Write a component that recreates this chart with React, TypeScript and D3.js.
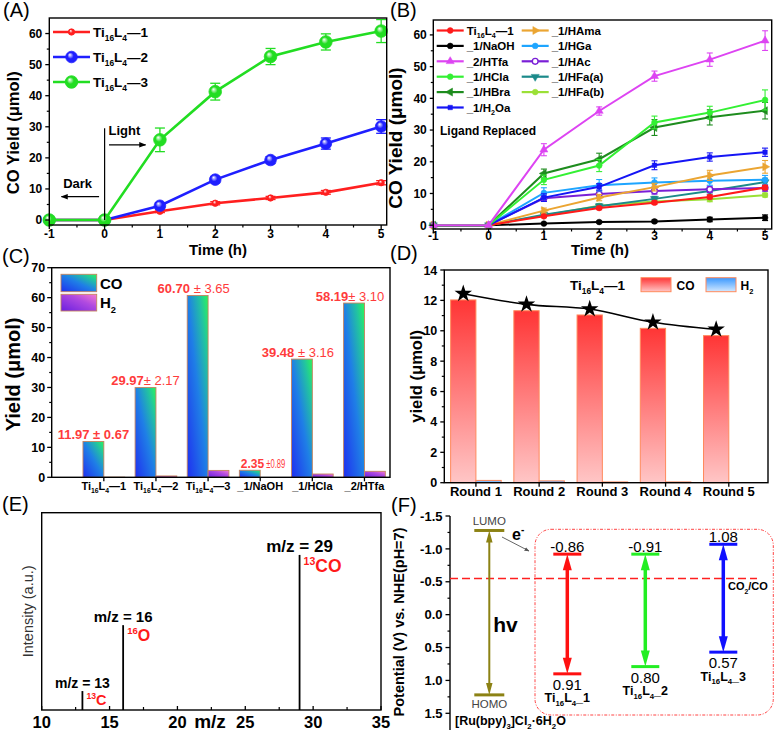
import React from 'react';
import * as d3 from 'd3';

const FONT = 'Arial, "Liberation Sans", Helvetica, sans-serif';

// ---------------- Panel A data ----------------
const timeH = [-1, 0, 1, 2, 3, 4, 5];
const aLabels = ['Ti_{16}L_{4}—1', 'Ti_{16}L_{4}—2', 'Ti_{16}L_{4}—3'];
const aTi1 = [0, 0, 2.8, 5.4, 7.1, 8.9, 12.0];
const aTi1Err = [0, 0, 0.4, 0.5, 0.5, 0.6, 0.67];
const aTi2 = [0, 0, 4.6, 13.0, 19.3, 24.6, 30.1];
const aTi2Err = [0, 0, 1.0, 1.0, 1.1, 1.8, 2.2];
const aTi3 = [0, 0, 25.8, 41.3, 52.6, 57.3, 60.8];
const aTi3Err = [0, 0, 3.8, 2.7, 2.6, 2.6, 3.7];
const yieldTicks = [0, 10, 20, 30, 40, 50, 60];
const timeTicks = [-1, 0, 1, 2, 3, 4, 5];

// ---------------- Panel B data ----------------
const bLabels = ['Ti_{16}L_{4}—1', '_1/NaOH', '_2/HTfa', '_1/HCla', '_1/HBra', '_1/H_{2}Oa', '_1/HAma', '_1/HGa', '_1/HAc', '_1/HFa(a)', '_1/HFa(b)'];
const bTi1 = [0, 0, 2.8, 5.4, 7.1, 8.9, 11.9];
const bNaOH = [0, 0, 0.5, 1.0, 1.2, 1.8, 2.35];
const bHTfa = [0, 0, 23.8, 36.0, 47.0, 52.2, 58.2];
const bHCla = [0, 0, 14.3, 18.8, 32.4, 35.5, 39.5];
const bHBra = [0, 0, 16.3, 20.8, 30.8, 34.0, 36.1];
const bH2Oa = [0, 0, 8.7, 12.1, 18.9, 21.5, 23.0];
const bHAma = [0, 0, 4.6, 8.7, 12.0, 15.7, 18.4];
const bHGa = [0, 0, 10.2, 12.6, 13.5, 14.0, 14.3];
const bHAc = [0, 0, 8.5, 9.8, 10.8, 11.3, 11.7];
const bHFaA = [0, 0, 3.3, 6.0, 8.3, 10.8, 13.6];
const bHFaB = [0, 0, 3.1, 6.1, 7.5, 8.2, 9.5];
const bTi1Err = [0, 0, 0.4, 0.5, 0.5, 0.6, 0.67];
const bNaOHErr = [0, 0, 0.2, 0.3, 0.4, 0.7, 0.89];
const bHTfaErr = [0, 0, 1.9, 1.3, 1.6, 2.1, 3.1];
const bHClaErr = [0, 0, 1.5, 1.9, 2.0, 2.0, 3.16];
const bHBraErr = [0, 0, 1.4, 1.9, 2.5, 2.4, 2.6];
const bH2OaErr = [0, 0, 1.2, 1.0, 1.4, 1.3, 1.3];
const bHAmaErr = [0, 0, 0.8, 1.0, 1.2, 1.6, 2.0];
const bHGaErr = [0, 0, 1.6, 1.8, 1.4, 1.4, 1.4];
const bHAcErr = [0, 0, 1.0, 1.0, 1.0, 1.0, 1.0];
const bHFaAErr = [0, 0, 0.6, 0.7, 0.8, 1.0, 1.2];
const bHFaBErr = [0, 0, 0.5, 0.6, 0.6, 0.8, 0.6];
const bColors = ['#ff1a1a', '#000000', '#dd44f2', '#33f033', '#1e8c1e', '#1515f5', '#eba532', '#1ea5ff', '#7a1fd6', '#1b8a8a', '#9be036'];
const bMarkers = ['circle', 'circle', 'triangle', 'circle', 'left', 'square', 'right', 'circle', 'circle', 'down', 'circle'];

// ---------------- Panel C data ----------------
const cCats = ['Ti_{16}L_{4}—1', 'Ti_{16}L_{4}—2', 'Ti_{16}L_{4}—3', '_1/NaOH', '_1/HCla', '_2/HTfa'];
const cCO = [11.97, 29.97, 60.70, 2.35, 39.48, 58.19];
const cH2 = [0.05, 0.45, 2.3, 0, 1.1, 2.0];
const cValText = ['11.97', '29.97', '60.70', '2.35', '39.48', '58.19'];
const cSepText = [' ± ', '± ', ' ± ', ' ± ', ' ± ', '± '];
const cErrText = ['0.67', '2.17', '3.65', '0.89', '3.16', '3.10'];
const cYTicks = [0, 10, 20, 30, 40, 50, 60, 70];

// ---------------- Panel D data ----------------
const dRounds = ['Round 1', 'Round 2', 'Round 3', 'Round 4', 'Round 5'];
const dCO = [12.03, 11.32, 11.04, 10.16, 9.68];
const dH2 = [0.15, 0.12, 0.05, 0.05, 0];
const dStar = [12.44, 11.74, 11.43, 10.56, 10.09];
const dYTicks = [0, 2, 4, 6, 8, 10, 12, 14];

// ---------------- Panel E data ----------------
const eMz = [13, 16, 29];
const eIntensity = [0.096, 0.43, 0.786];
const eLabels = ['m/z = 13', 'm/z = 16', 'm/z = 29'];
const eIsoMass = ['13', '16', '13'];
const eSpecies = ['C', 'O', 'CO'];
const eXTicks = [10, 15, 20, 25, 30, 35];

// ---------------- Panel F data ----------------
const fNames = ['Ti_{16}L_{4}_1', 'Ti_{16}L_{4}_2', 'Ti_{16}L_{4}_3'];
const fLumo = [-0.92, -0.92, -1.07];
const fHomo = [0.90, 0.79, 0.57];
const fLumoText = ['-0.86', '-0.91', '1.08'];
const fHomoText = ['0.91', '0.80', '0.57'];
const fColors = ['#ff1010', '#22ee22', '#1010ff'];
const ruLumo = -1.28;
const ruHomo = 1.22;
const co2coPotential = -0.55;
const fYTicks = [-1.5, -1.0, -0.5, 0.0, 0.5, 1.0, 1.5];

// ---------------- helpers ----------------
function rich(str: string, fs: number) {
  const parts = str.split(/(_\{[^}]*\}|\^\{[^}]*\})/).filter((p) => p !== '');
  const out: any[] = [];
  let shift = 0;
  parts.forEach((p, i) => {
    if (p.startsWith('_{')) {
      const s = fs * 0.3;
      out.push(<tspan key={i} fontSize={fs * 0.62} dy={s - shift}>{p.slice(2, -1)}</tspan>);
      shift = s;
    } else if (p.startsWith('^{')) {
      const s = -fs * 0.4;
      out.push(<tspan key={i} fontSize={fs * 0.62} dy={s - shift}>{p.slice(2, -1)}</tspan>);
      shift = s;
    } else {
      out.push(<tspan key={i} dy={-shift}>{p}</tspan>);
      shift = 0;
    }
  });
  return out;
}

function symPath(kind: string, size: number) {
  const t = kind === 'square' ? d3.symbolSquare : kind === 'circle' ? d3.symbolCircle : d3.symbolTriangle;
  return d3.symbol().type(t).size(size)() as string;
}
function symRot(kind: string) {
  if (kind === 'left') return -90;
  if (kind === 'right') return 90;
  if (kind === 'down') return 180;
  return 0;
}

function Frame({ x, y }: any) {
  const [x0, x1] = x.range();
  const [y1, y0] = y.range();
  return <rect x={x0} y={y0} width={x1 - x0} height={y1 - y0} fill="none" stroke="#000" strokeWidth={1.4} />;
}

function YTicks({ scale, x, major, minor = [], fmt = (v: number) => String(v), fs = 12, len = 4, mlen = 2.5, gap = 3 }: any) {
  return (
    <g>
      {minor.map((v: number, i: number) => (
        <line key={'m' + i} x1={x} x2={x - mlen} y1={scale(v)} y2={scale(v)} stroke="#000" strokeWidth={1.2} />
      ))}
      {major.map((v: number, i: number) => (
        <g key={i}>
          <line x1={x} x2={x - len} y1={scale(v)} y2={scale(v)} stroke="#000" strokeWidth={1.3} />
          <text x={x - len - gap} y={scale(v)} dy="0.36em" textAnchor="end" fontWeight="bold" fontSize={fs}>{fmt(v)}</text>
        </g>
      ))}
    </g>
  );
}

function XTicks({ scale, y, major, minor = [], fmt = (v: number) => String(v), fs = 12, len = 4, mlen = 2.5, gap = 13, dir = 1 }: any) {
  return (
    <g>
      {minor.map((v: number, i: number) => (
        <line key={'m' + i} x1={scale(v)} x2={scale(v)} y1={y} y2={y + dir * mlen} stroke="#000" strokeWidth={1.2} />
      ))}
      {major.map((v: number, i: number) => (
        <g key={i}>
          <line x1={scale(v)} x2={scale(v)} y1={y} y2={y + dir * len} stroke="#000" strokeWidth={1.3} />
          {fmt(v) !== '' && (
            <text x={scale(v)} y={y + gap} textAnchor="middle" fontWeight="bold" fontSize={fs}>{fmt(v)}</text>
          )}
        </g>
      ))}
    </g>
  );
}

function ErrBars({ xs, ys, errs, sx, sy, color, cap = 4, w = 1.3 }: any) {
  return (
    <g stroke={color} strokeWidth={w}>
      {ys.map((v: number, i: number) => {
        if (!errs[i]) return null;
        const X = sx(xs[i]);
        const t = sy(v + errs[i]);
        const b = sy(v - errs[i]);
        return (
          <g key={i}>
            <line x1={X} x2={X} y1={t} y2={b} />
            <line x1={X - cap} x2={X + cap} y1={t} y2={t} />
            <line x1={X - cap} x2={X + cap} y1={b} y2={b} />
          </g>
        );
      })}
    </g>
  );
}

const gloss = (c: string) => 'gl' + c.replace('#', '');

// ---------------- Panel A ----------------
function PanelA() {
  const x = d3.scaleLinear().domain([-1, 5.1]).range([49.3, 386.7]);
  const y = d3.scaleLinear().domain([-1.6, 65]).range([225, 18]);
  const line = d3.line<number>().x((_, i) => x(timeH[i])).y((v) => y(v));
  const series = [
    { vals: aTi1, err: aTi1Err, color: '#ff1f1f', r: 3.2 },
    { vals: aTi2, err: aTi2Err, color: '#1f1fff', r: 5.8 },
    { vals: aTi3, err: aTi3Err, color: '#22dd22', r: 6.3 },
  ];
  return (
    <g>
      <text x={3} y={17} fontSize={20}>(A)</text>
      {series.map((s, k) => (
        <g key={k}>
          <path d={line(s.vals) as string} fill="none" stroke={s.color} strokeWidth={2.6} />
          <ErrBars xs={timeH} ys={s.vals} errs={s.err} sx={x} sy={y} color={s.color} cap={5} />
          {s.vals.map((v, i) => (
            <circle key={i} cx={x(timeH[i])} cy={y(v)} r={s.r} fill={`url(#${gloss(s.color)})`} stroke={s.color} strokeWidth={0.8} />
          ))}
        </g>
      ))}
      <Frame x={x} y={y} />
      <YTicks scale={y} x={x(-1)} major={yieldTicks} minor={[5, 15, 25, 35, 45, 55]} fs={12} />
      <XTicks scale={x} y={225} major={timeTicks} minor={[-0.5, 0.5, 1.5, 2.5, 3.5, 4.5]} fs={12} gap={12.5} />
      <text transform={`translate(19,${(y(0) + y(60)) / 2 + 6}) rotate(-90)`} textAnchor="middle" fontWeight="bold" fontSize={16.5}>CO Yield (μmol)</text>
      <text x={(x(-1) + x(5.1)) / 2} y={255} textAnchor="middle" fontWeight="bold" fontSize={15}>Time (h)</text>
      {/* legend */}
      {series.map((s, k) => (
        <g key={k} transform={`translate(0,${32 + k * 25})`}>
          <line x1={53} x2={90} y1={0} y2={0} stroke={s.color} strokeWidth={2.6} />
          <circle cx={71.5} cy={0} r={s.r} fill={`url(#${gloss(s.color)})`} stroke={s.color} strokeWidth={0.8} />
          <text x={93} y={4.5} fontWeight="bold" fontSize={13.5}>{rich(aLabels[k], 13.5)}</text>
        </g>
      ))}
      {/* annotations */}
      <line x1={x(0)} x2={x(0)} y1={y(29.5)} y2={y(0)} stroke="#000" strokeWidth={1.2} />
      <line x1={x(0.08)} x2={x(0.74)} y1={y(24.2)} y2={y(24.2)} stroke="#000" strokeWidth={1.2} markerEnd="url(#arrowK)" />
      <text x={x(0.07)} y={y(27.2)} fontWeight="bold" fontSize={13}>Light</text>
      <line x1={x(-0.1)} x2={x(-0.78)} y1={y(7.5)} y2={y(7.5)} stroke="#000" strokeWidth={1.2} markerEnd="url(#arrowK)" />
      <text x={x(-0.75)} y={y(10.4)} fontWeight="bold" fontSize={13}>Dark</text>
    </g>
  );
}

// ---------------- Panel B ----------------
function PanelB() {
  const x = d3.scaleLinear().domain([-1, 5.12]).range([433.3, 771.7]);
  const y = d3.scaleLinear().domain([-1.2, 64.7]).range([229, 20]);
  const line = d3.line<number>().x((_, i) => x(timeH[i])).y((v) => y(v));
  const vals = [bTi1, bNaOH, bHTfa, bHCla, bHBra, bH2Oa, bHAma, bHGa, bHAc, bHFaA, bHFaB];
  const errs = [bTi1Err, bNaOHErr, bHTfaErr, bHClaErr, bHBraErr, bH2OaErr, bHAmaErr, bHGaErr, bHAcErr, bHFaAErr, bHFaBErr];
  const mk = (k: number, cx: number, cy: number, key: any) => {
    const kind = bMarkers[k];
    const size = kind === 'circle' ? 26 : kind === 'square' ? 20 : 28;
    const hollow = k === 8;
    return (
      <path key={key} d={symPath(kind, size)} transform={`translate(${cx},${cy}) rotate(${symRot(kind)})`}
        fill={hollow ? '#fff' : bColors[k]} stroke={bColors[k]} strokeWidth={hollow ? 1.4 : 0.5} />
    );
  };
  const order = [1, 10, 9, 8, 7, 6, 0, 5, 4, 3, 2];
  return (
    <g>
      <text x={390} y={17} fontSize={20}>(B)</text>
      {order.map((k) => (
        <g key={k}>
          <path d={line(vals[k]) as string} fill="none" stroke={bColors[k]} strokeWidth={2} />
          <ErrBars xs={timeH} ys={vals[k]} errs={errs[k]} sx={x} sy={y} color={bColors[k]} cap={3} w={1.1} />
          {vals[k].map((v, i) => mk(k, x(timeH[i]), y(v), i))}
        </g>
      ))}
      <Frame x={x} y={y} />
      <YTicks scale={y} x={433.3} major={yieldTicks} minor={[5, 15, 25, 35, 45, 55]} fs={12} len={3.5} gap={3} />
      <XTicks scale={x} y={229} major={timeTicks} minor={[-0.5, 0.5, 1.5, 2.5, 3.5, 4.5]} fs={12} gap={10.5} />
      <text transform={`translate(402,${(y(0) + y(60)) / 2 + 8}) rotate(-90)`} textAnchor="middle" fontWeight="bold" fontSize={19}>CO Yield (μmol)</text>
      <text x={600} y={255} textAnchor="middle" fontWeight="bold" fontSize={15}>Time (h)</text>
      {bLabels.map((lab, k) => {
        const col = k < 6 ? 0 : 1;
        const row = k < 6 ? k : k - 6;
        const lx = col === 0 ? 436.7 : 521.7;
        const ly = 30.5 + row * 15.4;
        return (
          <g key={k}>
            <line x1={lx} x2={lx + 27} y1={ly} y2={ly} stroke={bColors[k]} strokeWidth={2.2} />
            {mk(k, lx + 13.5, ly, 'm')}
            <text x={lx + 30} y={ly + 4.2} fontWeight="bold" fontSize={11.5}>{rich(lab, 11.5)}</text>
          </g>
        );
      })}
      <text x={440} y={135} fontWeight="bold" fontSize={12}>Ligand Replaced</text>
    </g>
  );
}

// ---------------- Panel C ----------------
function PanelC() {
  const x = d3.scaleLinear().domain([-1, 5.49]).range([51.7, 390]);
  const y = d3.scaleLinear().domain([0, 70]).range([477.3, 267.7]);
  const bw = x(0.4) - x(0);
  const labelShift = [0, 0, -4, 0, -4, -4];
  return (
    <g>
      <text x={2} y={263} fontSize={20}>(C)</text>
      {cCO.map((v, i) => (
        <g key={i}>
          <rect x={x(i) - bw} y={y(v)} width={bw} height={y(0) - y(v)} fill="url(#gCO)" stroke="#c4835e" strokeWidth={0.9} />
          {cH2[i] > 0 && (
            <rect x={x(i)} y={y(cH2[i])} width={bw} height={y(0) - y(cH2[i])} fill="url(#gH2)" stroke="#c4835e" strokeWidth={0.9} />
          )}
        </g>
      ))}
      {cCO.map((v, i) => (
        i === 3 ? (
          <g key={i}>
            <text x={x(i) - bw + 1.5} y={y(v) - 2.5} fontSize={12} fontWeight="bold" fill="#ff3b3b">{cValText[i]}</text>
            <text x={x(i) - bw + 27} y={y(v) - 2.5} fontSize={12} fill="#ff3b3b" textLength={19} lengthAdjust="spacingAndGlyphs">{cSepText[i].trim() + cErrText[i]}</text>
          </g>
        ) : (
          <text key={i} x={x(i) - bw / 2 + labelShift[i]} y={y(v) - 2.5} textAnchor="middle" fontSize={13} fill="#ff3b3b">
            <tspan fontWeight="bold">{cValText[i]}</tspan>
            <tspan fontWeight={i === 0 ? 'bold' : 'normal'}>{cSepText[i] + cErrText[i]}</tspan>
          </text>
        )
      ))}
      <Frame x={x} y={y} />
      <YTicks scale={y} x={51.7} major={cYTicks} minor={[5, 15, 25, 35, 45, 55, 65]} fs={12.5} len={4.5} gap={2} />
      <XTicks scale={x} y={477.3} major={[0, 1, 2, 3, 4, 5]} fmt={() => ''} len={4} />
      {cCats.map((c, i) => (
        <text key={i} x={x(i)} y={490} textAnchor="middle" fontWeight="bold" fontSize={11}>{rich(c, 11)}</text>
      ))}
      <text transform={`translate(20,${(y(0) + y(70)) / 2 + 2}) rotate(-90)`} textAnchor="middle" fontWeight="bold" fontSize={20}>Yield (μmol)</text>
      <rect x={61} y={274.3} width={35.7} height={17.4} fill="url(#gCO)" stroke="#c4835e" strokeWidth={0.9} />
      <rect x={61} y={294.3} width={35.7} height={16.7} fill="url(#gH2)" stroke="#c4835e" strokeWidth={0.9} />
      <text x={100} y={289} fontWeight="bold" fontSize={15}>CO</text>
      <text x={100} y={308} fontWeight="bold" fontSize={15}>{rich('H_{2}', 15)}</text>
    </g>
  );
}

// ---------------- Panel D ----------------
function PanelD() {
  const x = d3.scaleLinear().domain([-0.5, 4.62]).range([444.3, 768]);
  const y = d3.scaleLinear().domain([0, 14]).range([482.7, 270]);
  const bw = x(0.4) - x(0);
  const starLine = d3.line<number>().x((_, i) => x(i) - bw / 2).y((v) => y(v)).curve(d3.curveCatmullRom.alpha(0.5));
  const star = d3.symbol().type(d3.symbolStar).size(95)() as string;
  return (
    <g>
      <text x={390} y={260} fontSize={20}>(D)</text>
      {dCO.map((v, i) => (
        <g key={i}>
          <rect x={x(i) - bw} y={y(v)} width={bw} height={y(0) - y(v)} fill="url(#gDCO)" stroke="#ff8a5c" strokeWidth={1} />
          {dH2[i] > 0 && (
            <rect x={x(i)} y={y(dH2[i])} width={bw} height={y(0) - y(dH2[i])} fill="url(#gDH2)" stroke="#ff8a5c" strokeWidth={1} />
          )}
        </g>
      ))}
      <path d={starLine(dStar) as string} fill="none" stroke="#000" strokeWidth={1.6} />
      {dStar.map((v, i) => (
        <path key={i} d={star} transform={`translate(${x(i) - bw / 2},${y(v)})`} fill="#000" />
      ))}
      <Frame x={x} y={y} />
      <YTicks scale={y} x={444.3} major={dYTicks} minor={[1, 3, 5, 7, 9, 11, 13]} fs={12.5} len={4} gap={3} />
      <XTicks scale={x} y={482.7} major={[0, 1, 2, 3, 4]} fmt={() => ''} len={4} />
      {dRounds.map((r, i) => (
        <text key={i} x={x(i)} y={496} textAnchor="middle" fontWeight="bold" fontSize={13}>{r}</text>
      ))}
      <text transform={`translate(422,${(y(0) + y(14)) / 2}) rotate(-90)`} textAnchor="middle" fontWeight="bold" fontSize={16.5}>yield (μmol)</text>
      <text x={570} y={290} fontWeight="bold" fontSize={13.5}>{rich('Ti_{16}L_{4}—1', 13.5)}</text>
      <rect x={641} y={277.7} width={30} height={14} fill="url(#gDCO)" stroke="#ff8a5c" strokeWidth={1} />
      <text x={676.5} y={290} fontWeight="bold" fontSize={12}>CO</text>
      <rect x={706} y={277.7} width={30} height={14} fill="url(#gDH2)" stroke="#ff8a5c" strokeWidth={1} />
      <text x={740.5} y={290} fontWeight="bold" fontSize={12}>{rich('H_{2}', 12)}</text>
    </g>
  );
}

// ---------------- Panel E ----------------
function PanelE() {
  const x = d3.scaleLinear().domain([10, 35]).range([41.7, 381]);
  const y = d3.scaleLinear().domain([0, 1]).range([710, 512.7]);
  const labFs = [14, 15, 17];
  const spFs = [14.5, 16, 17.5];
  return (
    <g>
      <text x={2} y={511} fontSize={20}>(E)</text>
      {eMz.map((m, i) => (
        <g key={i}>
          <line x1={x(m)} x2={x(m)} y1={y(0)} y2={y(eIntensity[i])} stroke="#000" strokeWidth={1.8} />
          <text x={x(m)} y={y(eIntensity[i]) - 3} textAnchor="middle" fontWeight="bold" fontSize={labFs[i]}>{eLabels[i]}</text>
          <text x={x(m) + 4} y={y(eIntensity[i]) + spFs[i] * 0.97} fontWeight="bold" fontSize={spFs[i]} fill="#ff1a1a">
            <tspan fontSize={spFs[i] * 0.6} dy={-spFs[i] * 0.4}>{eIsoMass[i]}</tspan>
            <tspan dy={spFs[i] * 0.4}>{eSpecies[i]}</tspan>
          </text>
        </g>
      ))}
      <Frame x={x} y={y} />
      <XTicks scale={x} y={710} major={eXTicks} minor={[12.5, 17.5, 22.5, 27.5, 32.5]} fs={16.5} len={4} mlen={3} gap={18} dir={-1} />
      <text x={210} y={728} textAnchor="middle" fontWeight="bold" fontSize={19}>m/z</text>
      <text transform={`translate(33,${(y(0) + y(1)) / 2}) rotate(-90)`} textAnchor="middle" fontSize={14.5} fill="#333">Intensity (a.u.)</text>
    </g>
  );
}

// ---------------- Panel F ----------------
function DArrow({ x, y1, y2, color, w, hw, hl }: any) {
  return (
    <g>
      <line x1={x} x2={x} y1={y1 + hl * 0.8} y2={y2 - hl * 0.8} stroke={color} strokeWidth={w} />
      <path d={`M${x},${y1} L${x - hw / 2},${y1 + hl} L${x + hw / 2},${y1 + hl} Z`} fill={color} />
      <path d={`M${x},${y2} L${x - hw / 2},${y2 - hl} L${x + hw / 2},${y2 - hl} Z`} fill={color} />
    </g>
  );
}

function PanelF() {
  const y = d3.scaleLinear().domain([-1.5, 1.5]).range([516, 713.3]);
  const x = d3.scaleLinear().domain([0, 3]).range([489.3, 723.3]);
  const olive = '#8c8214';
  return (
    <g>
      <text x={391} y={512} fontSize={20}>(F)</text>
      <line x1={450} x2={450} y1={y(-1.5)} y2={730} stroke="#000" strokeWidth={1.4} />
      <YTicks scale={y} x={450} major={fYTicks} minor={[-1.25, -0.75, -0.25, 0.25, 0.75, 1.25]} fmt={(v: number) => v.toFixed(1)} fs={13} len={4.5} gap={3} />
      <text transform={`translate(404,${622}) rotate(-90)`} textAnchor="middle" fontWeight="bold" fontSize={14.5}>Potential (V) vs. NHE(pH=7)</text>
      {/* CO2/CO line */}
      <line x1={450} x2={757} y1={y(co2coPotential)} y2={y(co2coPotential)} stroke="#ff2020" strokeWidth={1.3} strokeDasharray="8,4" />
      <text x={728} y={y(co2coPotential) + 12} fontWeight="bold" fontSize={11}>{rich('CO_{2}/CO', 11)}</text>
      {/* box */}
      <rect x={535} y={529.3} width={238.3} height={185.7} rx={16} fill="none" stroke="#ff3030" strokeWidth={0.9} strokeDasharray="3,1.5,1,1.5" />
      {/* Ru */}
      <DArrow x={x(0)} y1={y(ruLumo)} y2={y(ruHomo)} color={olive} w={2} hw={6.5} hl={12} />
      <line x1={x(0) - 15} x2={x(0) + 15} y1={y(ruLumo)} y2={y(ruLumo)} stroke={olive} strokeWidth={3} />
      <line x1={x(0) - 15} x2={x(0) + 15} y1={y(ruHomo)} y2={y(ruHomo)} stroke={olive} strokeWidth={3} />
      <text x={x(0)} y={y(ruLumo) - 5.5} textAnchor="middle" fontSize={11.5} fill="#444">LUMO</text>
      <text x={x(0)} y={y(ruHomo) + 13.5} textAnchor="middle" fontSize={11.5} fill="#444">HOMO</text>
      <text x={x(0) + 4} y={631.5} fontWeight="bold" fontSize={21}>hv</text>
      <text x={455} y={725} fontWeight="bold" fontSize={12.5}>{rich('[Ru(bpy)_{3}]Cl_{2}·6H_{2}O', 12.5)}</text>
      <text x={512} y={540} fontWeight="bold" fontSize={16}>e<tspan fontSize={10} dy={-7}>-</tspan></text>
      <line x1={502} x2={529} y1={537} y2={551} stroke="#555" strokeWidth={0.9} markerEnd="url(#arrowS)" />
      {/* Ti levels */}
      {fLumo.map((l, i) => {
        const cx = x(i + 1);
        return (
          <g key={i}>
            <DArrow x={cx} y1={y(l)} y2={y(fHomo[i])} color={fColors[i]} w={3.5} hw={9} hl={16} />
            <line x1={cx - 14} x2={cx + 14} y1={y(l)} y2={y(l)} stroke={fColors[i]} strokeWidth={3} />
            <line x1={cx - 14} x2={cx + 14} y1={y(fHomo[i])} y2={y(fHomo[i])} stroke={fColors[i]} strokeWidth={3} />
            <text x={cx} y={y(l) - 2} textAnchor="middle" fontSize={15}>{fLumoText[i]}</text>
            <text x={cx} y={y(fHomo[i]) + 16} textAnchor="middle" fontSize={15}>{fHomoText[i]}</text>
            <text x={cx} y={y(fHomo[i]) + 28.5} textAnchor="middle" fontWeight="bold" fontSize={12.5}>{rich(fNames[i], 12.5)}</text>
          </g>
        );
      })}
    </g>
  );
}

export default function App() {
  const glossColors = ['#ff1f1f', '#1f1fff', '#22dd22'];
  return (
    <svg width={775} height={733} style={{ position: 'absolute', left: 0, top: 0, background: '#fff' }} fontFamily={FONT}>
      <defs>
        {glossColors.map((c) => (
          <radialGradient key={c} id={gloss(c)} cx="0.5" cy="0.5" fx="0.35" fy="0.3" r="0.6">
            <stop offset="0" stopColor="#ffffff" />
            <stop offset="0.45" stopColor={c} />
            <stop offset="1" stopColor={c} />
          </radialGradient>
        ))}
        <linearGradient id="gCO" x1="0" y1="1" x2="1" y2="0">
          <stop offset="0" stopColor="#1f2ff0" />
          <stop offset="0.5" stopColor="#1f7fe6" />
          <stop offset="0.8" stopColor="#22c4a0" />
          <stop offset="1" stopColor="#2cf55a" />
        </linearGradient>
        <linearGradient id="gH2" x1="0" y1="1" x2="1" y2="0">
          <stop offset="0" stopColor="#6a1fe0" />
          <stop offset="0.6" stopColor="#b04ae0" />
          <stop offset="1" stopColor="#f77ad0" />
        </linearGradient>
        <linearGradient id="gDCO" x1="0" y1="0" x2="0" y2="1">
          <stop offset="0" stopColor="#ff3535" />
          <stop offset="1" stopColor="#ffc6c6" />
        </linearGradient>
        <linearGradient id="gDH2" x1="0" y1="0" x2="0" y2="1">
          <stop offset="0" stopColor="#3a98ff" />
          <stop offset="1" stopColor="#d2e8ff" />
        </linearGradient>
        <marker id="arrowK" viewBox="0 0 10 10" refX="9" refY="5" markerWidth="7" markerHeight="7" orient="auto" markerUnits="userSpaceOnUse">
          <path d="M0,1 L10,5 L0,9 Z" fill="#000" />
        </marker>
        <marker id="arrowS" viewBox="0 0 10 10" refX="9" refY="5" markerWidth="5" markerHeight="5" orient="auto" markerUnits="userSpaceOnUse">
          <path d="M0,1 L10,5 L0,9 Z" fill="#555" />
        </marker>
      </defs>
      <PanelA />
      <PanelB />
      <PanelC />
      <PanelD />
      <PanelE />
      <PanelF />
    </svg>
  );
}
